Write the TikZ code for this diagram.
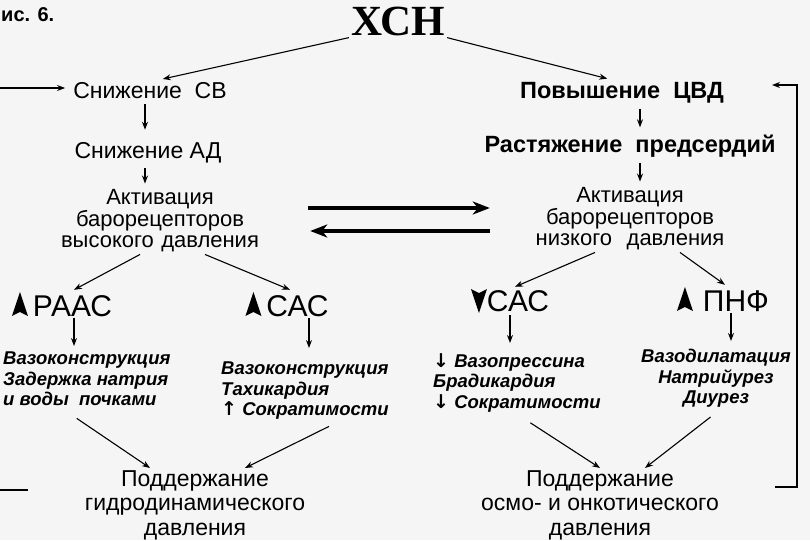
\documentclass[tikz,border=0pt]{standalone}
\usepackage{fontspec}
\setmainfont{Liberation Sans}
\newfontfamily\serifface{Liberation Serif}
\newfontfamily\symface{DejaVu Sans}
\usetikzlibrary{arrows.meta}

% filled marks in front of the system names
\newcommand\upmark{\tikz[baseline=0pt,x=1pt,y=1pt]\fill (0,0) -- (8,24) -- (16,0) -- (8,4) -- cycle;}
\newcommand\downmark{\tikz[baseline=0pt,x=1pt,y=1pt]\fill (0,22) -- (8,-2) -- (16,22) -- (8,18) -- cycle;}
\newcommand\up{{\symface\fontsize{19}{19}\selectfont↑}}
\newcommand\dn{{\symface\fontsize{19}{19}\selectfont↓}}

\tikzset{
  every node/.style={inner sep=2pt},
  plain/.style={font=\fontsize{23}{24}\selectfont},
  strong/.style={font=\fontsize{23.5}{24}\selectfont\bfseries},
  receptor/.style={font=\fontsize{22}{21.5}\selectfont, align=center, text width=200pt},
  sysname/.style={font=\fontsize{30}{32}\selectfont},
  effect/.style={font=\fontsize{18.5}{20.5}\selectfont\bfseries\itshape},
  result/.style={font=\fontsize{23}{24.5}\selectfont, align=center},
  arr/.style={-{Stealth[length=8pt,width=6pt]}, line width=1.1pt},
  fat/.style={-{Stealth[length=17pt,width=13pt,inset=5pt]}, line width=3.5pt},
}

\begin{document}
\begin{tikzpicture}[x=1pt,y=-1pt]
\fill[black!4] (0,0) rectangle (810,540);
\useasboundingbox (0,0) rectangle (810,540);

\node[anchor=base west, font=\fontsize{20}{21}\selectfont\bfseries] (fig) at (-1,22) {ис. 6.};
\node[font=\fontsize{43}{45}\selectfont\serifface\bfseries] (xsn) at (398,21) {ХСН};

% left branch
\node[plain, anchor=base] (snsv) at (150,99) {Снижение\ \ СВ};
\node[plain, anchor=base] (snad) at (148,158) {Снижение АД};
\node[receptor] (acth) at (160,221) {Активация\\барорецепторов\\высокого давления};

% right branch
\node[strong, anchor=base] (pcvd) at (622,99) {Повышение\ \ ЦВД};
\node[strong, anchor=base] (rast) at (630,153) {Растяжение\ \ предсердий};
\node[receptor] (actl) at (630,219) {Активация\\барорецепторов\\низкого\ \ давления};

% systems
\node[sysname, anchor=base] (raas) at (62,316) {\upmark\,РААС};
\node[sysname, anchor=base] (sasl) at (287,316) {\upmark\,САС};
\node[sysname, anchor=base] (sasr) at (510,311) {\downmark САС};
\node[sysname, anchor=base] (pnf) at (723,311) {\upmark\,\,ПНФ};

% effects
\node[effect, align=left, anchor=north west] (effa) at (1,350) {Вазоконструкция\\Задержка натрия\\и воды\ \ почками};
\node[effect, align=left, anchor=north west] (effb) at (219,360) {Вазоконструкция\\Тахикардия\\\up\ Сократимости};
\node[effect, align=left, anchor=north west] (effc) at (431,351) {\dn\ Вазопрессина\\Брадикардия\\\dn\ Сократимости};
\node[effect, align=center, anchor=north] (effd) at (716,347) {Вазодилатация\\Натрийурез\\Диурез};

% results
\node[result, anchor=north] (holdh) at (195,468) {Поддержание\\гидродинамического\\давления};
\node[result, anchor=north] (holdo) at (600,468) {Поддержание\\осмо- и онкотического\\давления};

% connectors
\draw[arr, shorten >=8pt] (xsn.south west) -- ([xshift=5pt]snsv.north);
\draw[arr, shorten >=8pt] (xsn.south east) -- ([xshift=-7pt]pcvd.north);
\draw[arr, shorten <=3pt, shorten >=10pt] ([xshift=-5pt]snsv.south) -- ([xshift=-3pt]snad.north);
\draw[arr, shorten <=3pt, shorten >=4pt] ([xshift=-3pt]snad.south) -- ([xshift=-15pt]acth.north);
\draw[arr, shorten <=3pt, shorten >=6pt] ([xshift=18pt]pcvd.south) -- ([xshift=10pt]rast.north);
\draw[arr, shorten <=3pt, shorten >=4pt] ([xshift=10pt]rast.south) -- ([xshift=10pt]actl.north);

\draw[fat] ([yshift=13pt,xshift=46pt]acth.east) -- ([yshift=11pt,xshift=-38pt]actl.west);
\draw[fat] ([yshift=-12pt,xshift=-38pt]actl.west) -- ([yshift=-10pt,xshift=48pt]acth.east);

\draw[arr] ([xshift=-20pt]acth.south) -- ([xshift=12pt]raas.north);
\draw[arr] ([xshift=45pt]acth.south) -- ([xshift=3pt]sasl.north);
\draw[arr] ([xshift=-35pt]actl.south) -- ([xshift=5pt]sasr.north);
\draw[arr] ([xshift=50pt]actl.south) -- ([xshift=2pt]pnf.north);

\draw[arr, shorten >=4pt] ([xshift=12pt]raas.south) -- ([xshift=12pt]raas.south |- effa.north);
\draw[arr, shorten >=12pt] ([xshift=22pt]sasl.south) -- ([xshift=22pt]sasl.south |- effb.north);
\draw[arr, shorten >=8pt] (sasr.south) -- (sasr.south |- effc.north);
\draw[arr, shorten >=6pt] ([xshift=8pt]pnf.south) -- ([xshift=8pt]pnf.south |- effd.north);

\draw[arr, shorten <=18pt] ([xshift=-25pt]effa.south) -- ([xshift=-45pt]holdh.north);
\draw[arr, shorten <=10pt] ([xshift=33pt]effb.south) -- ([xshift=50pt]holdh.north);
\draw[arr, shorten <=16pt] (effc.south) -- ([xshift=0pt]holdo.north);
\draw[arr, shorten <=12pt] ([xshift=4pt]effd.south) -- ([xshift=45pt]holdo.north);

% feedback lines
\coordinate (lin) at (0,88);
\coordinate (lout) at (0,490);
\coordinate (lend) at (28,490);
\coordinate (rin) at (775,487);
\coordinate (rtop) at (772,85);
\draw[arr, shorten >=6pt] (lin) -- (snsv.west |- lin);
\draw[line width=1.1pt] (lout) -- (lend);
\draw[arr] (rin) -- ++(22,0) |- (rtop);
\end{tikzpicture}
\end{document}
